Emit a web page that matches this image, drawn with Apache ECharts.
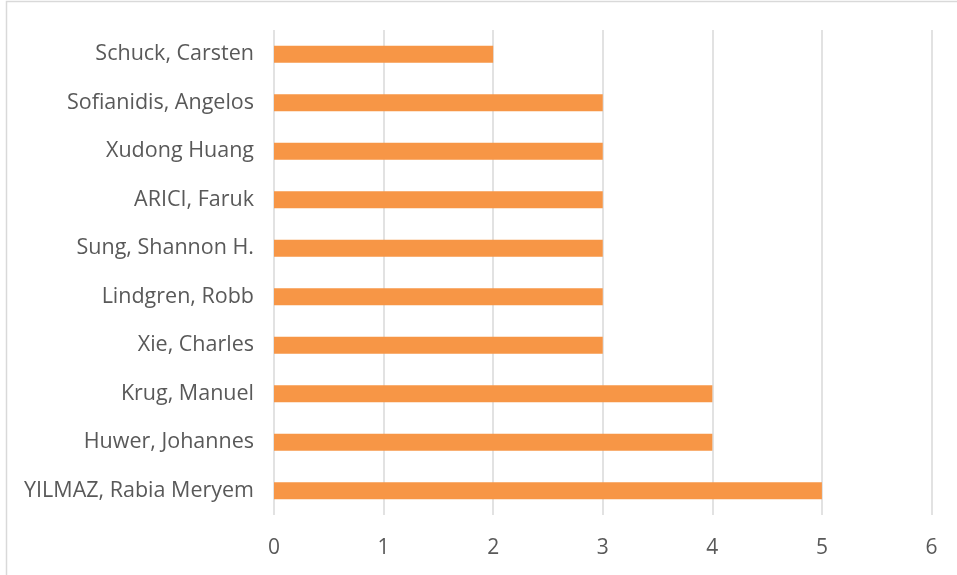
<!DOCTYPE html>
<html>
<head>
<meta charset="utf-8">
<script src="https://cdn.jsdelivr.net/npm/echarts@6/dist/echarts.min.js"></script>
<style>
  html, body { margin: 0; padding: 0; background: #ffffff; }
  #chart { width: 957px; height: 575px; }
</style>
</head>
<body>
<div id="chart"></div>
<script>
// Authors, listed bottom to top as drawn on the category axis
const authors = [
  'YILMAZ, Rabia Meryem',
  'Huwer, Johannes',
  'Krug, Manuel',
  'Xie, Charles',
  'Lindgren, Robb',
  'Sung, Shannon H.',
  'ARICI, Faruk',
  'Xudong Huang',
  'Sofianidis, Angelos',
  'Schuck, Carsten'
];
// Number of documents per author
const counts = [5, 4, 4, 3, 3, 3, 3, 3, 3, 2];
// Value axis range
const axisMin = 0;
const axisMax = 6;
const axisStep = 1;

const chart = echarts.init(document.getElementById('chart'), null, { renderer: 'canvas' });
const font = '"Open Sans", sans-serif';

chart.setOption({
  animation: false,
  backgroundColor: '#ffffff',
  graphic: [{
    type: 'rect',
    shape: { x: 6.5, y: 1.5, width: 960, height: 580 },
    style: { fill: 'none', stroke: '#d9d9d9', lineWidth: 1.5 },
    silent: true
  }],
  grid: { left: 274, right: 25.5, top: 30, bottom: 60, containLabel: false },
  xAxis: {
    type: 'value',
    min: axisMin,
    max: axisMax,
    interval: axisStep,
    axisLine: { show: false },
    axisTick: { show: false },
    splitLine: { show: true, lineStyle: { color: '#d9d9d9', width: 1.5 } },
    axisLabel: { color: '#595959', fontSize: 21, fontFamily: font, margin: 23 }
  },
  yAxis: {
    type: 'category',
    data: authors,
    axisLine: { show: false },
    axisTick: { show: false },
    axisLabel: {
      color: '#595959', fontSize: 21.5, fontFamily: font, margin: 20,
      padding: [6, 0, 0, 0]
    }
  },
  series: [{
    type: 'bar',
    data: counts,
    barWidth: 17,
    itemStyle: { color: '#f79646' }
  }]
});
</script>
</body>
</html>
